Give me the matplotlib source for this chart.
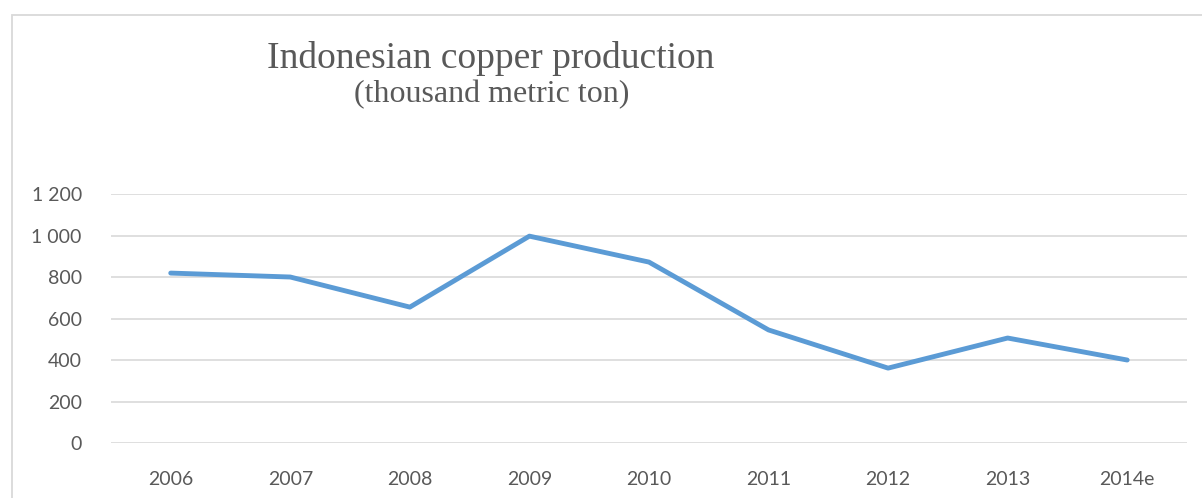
import matplotlib.pyplot as plt
from matplotlib.patches import Rectangle

# Data
years = ['2006', '2007', '2008', '2009', '2010', '2011', '2012', '2013', '2014e']
production = [819, 800, 655, 997, 872, 545, 361, 506, 400]
yticks = [0, 200, 400, 600, 800, 1000, 1200]
ytick_labels = ['0', '200', '400', '600', '800', '1 000', '1 200']

fig = plt.figure(figsize=(12.02, 4.98), dpi=100)
ax = fig.add_axes([0.0923, 0.1104, 0.8952, 0.5])

ax.plot(range(len(years)), production, color='#5B9BD5', linewidth=3.5,
        solid_joinstyle='round', solid_capstyle='round', zorder=3)

ax.set_xlim(-0.5, len(years) - 0.5)
ax.set_ylim(0, 1200)
ax.set_yticks(yticks)
ax.set_yticklabels(ytick_labels)
ax.set_xticks(range(len(years)))
ax.set_xticklabels(years)
ax.grid(axis='y', color='#d9d9d9', linewidth=1.2)
ax.set_axisbelow(True)
for s in ax.spines.values():
    s.set_visible(False)
ax.tick_params(length=0, colors='#595959', labelsize=14)
ax.tick_params(axis='y', pad=21)
ax.tick_params(axis='x', pad=20)
for lbl in ax.get_xticklabels() + ax.get_yticklabels():
    lbl.set_family('Lato')

# title and subtitle
fig.text(0.408, 0.8635, 'Indonesian copper production', family='Liberation Serif',
         fontsize=27, color='#595959', ha='center', va='baseline')
fig.text(0.409, 0.795, '(thousand metric ton)', family='Liberation Serif',
         fontsize=23, color='#595959', ha='center', va='baseline')

# chart border
fig.patches.append(Rectangle((12 / 1202, -0.1), 1.2, 1.1 - 15 / 498,
                             transform=fig.transFigure, fill=False,
                             edgecolor='#d9d9d9', linewidth=1.3))

fig.savefig('out.png', dpi=100)
